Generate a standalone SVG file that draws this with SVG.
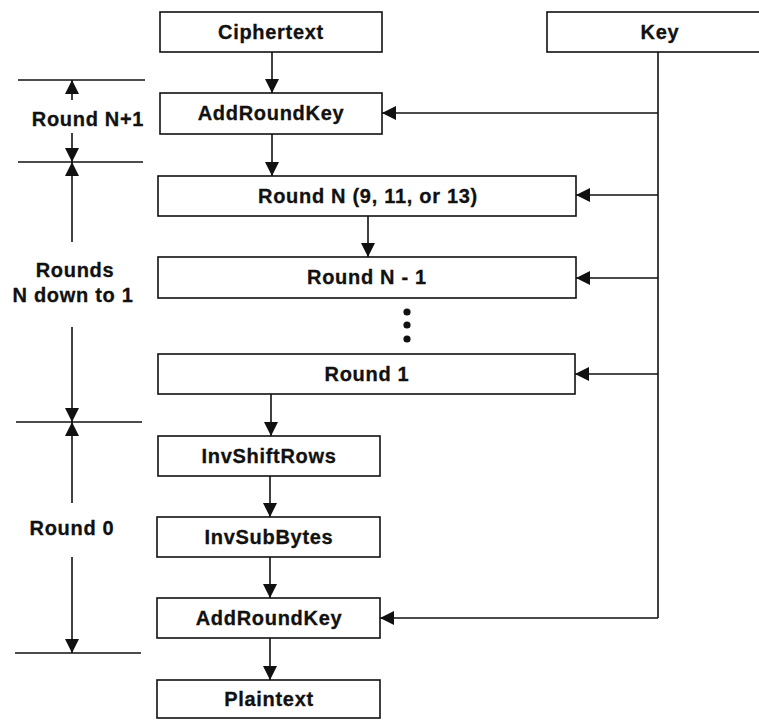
<svg xmlns="http://www.w3.org/2000/svg" width="759" height="720" viewBox="0 0 759 720">
<style>
.box{fill:#fff;stroke:#111;stroke-width:1.6}
.t{font-family:"Liberation Sans",Arial,sans-serif;font-weight:bold;font-size:20px;letter-spacing:0.7px;fill:#111;stroke:#111;stroke-width:0.3;text-anchor:middle}
.c{stroke:#111;stroke-width:1.6;fill:none}
.a{marker-end:url(#ah)}
</style>
<defs>
<marker id="ah" markerUnits="userSpaceOnUse" markerWidth="15" markerHeight="15" refX="14" refY="7" orient="auto">
<path d="M0,0 L14,7 L0,14 z" fill="#111"/>
</marker>
</defs>
<rect width="759" height="720" fill="#fff"/>
<g id="connectors">
<line class="c a" x1="272" y1="52" x2="272" y2="93"/>
<line class="c a" x1="272" y1="134" x2="272" y2="176"/>
<line class="c a" x1="368" y1="216" x2="368" y2="257"/>
<line class="c a" x1="271" y1="394" x2="271" y2="436"/>
<line class="c a" x1="270" y1="476" x2="270" y2="517"/>
<line class="c a" x1="270" y1="557" x2="270" y2="598"/>
<line class="c a" x1="270" y1="638" x2="270" y2="680"/>
<polyline class="c" points="658,52 658,618"/>
<line class="c a" x1="658" y1="618" x2="380" y2="618"/>
<line class="c a" x1="658" y1="113" x2="382" y2="113"/>
<line class="c a" x1="658" y1="195" x2="576" y2="195"/>
<line class="c a" x1="658" y1="278" x2="576" y2="278"/>
<line class="c a" x1="658" y1="374" x2="575" y2="374"/>
</g>
<g id="dims">
<line class="c" x1="18" y1="80" x2="145" y2="80"/>
<line class="c" x1="18" y1="162" x2="143" y2="162"/>
<line class="c" x1="16" y1="422" x2="142" y2="422"/>
<line class="c" x1="15" y1="653" x2="141" y2="653"/>
<line class="c a" x1="72" y1="100" x2="72" y2="80"/>
<line class="c a" x1="72" y1="133" x2="72" y2="162"/>
<line class="c a" x1="72" y1="242" x2="72" y2="162"/>
<line class="c a" x1="72" y1="327" x2="72" y2="422"/>
<line class="c a" x1="72" y1="503" x2="72" y2="422"/>
<line class="c a" x1="72" y1="557" x2="72" y2="653"/>
<text class="t" x="88" y="126">Round N+1</text>
<text class="t" x="75" y="277">Rounds</text>
<text class="t" x="73" y="302">N down to 1</text>
<text class="t" x="72" y="535">Round 0</text>
</g>
<g id="ciphertext"><rect class="box" x="160" y="12" width="222" height="40"/><text class="t" x="271" y="39">Ciphertext</text></g>
<g id="key"><rect class="box" x="547" y="12" width="214" height="40"/><text class="t" x="660" y="39">Key</text></g>
<g id="addroundkey1"><rect class="box" x="160" y="93" width="222" height="41"/><text class="t" x="271" y="120">AddRoundKey</text></g>
<g id="roundN"><rect class="box" x="158" y="176" width="418" height="40"/><text class="t" x="368" y="203">Round N (9, 11, or 13)</text></g>
<g id="roundN1"><rect class="box" x="158" y="257" width="418" height="41"/><text class="t" x="367" y="284">Round N - 1</text></g>
<g id="dots" fill="#111"><circle cx="407" cy="312" r="3.6"/><circle cx="407" cy="325" r="3.6"/><circle cx="407" cy="339" r="3.6"/></g>
<g id="round1"><rect class="box" x="158" y="354" width="417" height="40"/><text class="t" x="367" y="381">Round 1</text></g>
<g id="invshiftrows"><rect class="box" x="158" y="436" width="222" height="40"/><text class="t" x="269" y="463">InvShiftRows</text></g>
<g id="invsubbytes"><rect class="box" x="157" y="517" width="223" height="40"/><text class="t" x="269" y="544">InvSubBytes</text></g>
<g id="addroundkey2"><rect class="box" x="157" y="598" width="223" height="40"/><text class="t" x="269" y="625">AddRoundKey</text></g>
<g id="plaintext"><rect class="box" x="157" y="680" width="223" height="38"/><text class="t" x="269" y="706">Plaintext</text></g>
</svg>
